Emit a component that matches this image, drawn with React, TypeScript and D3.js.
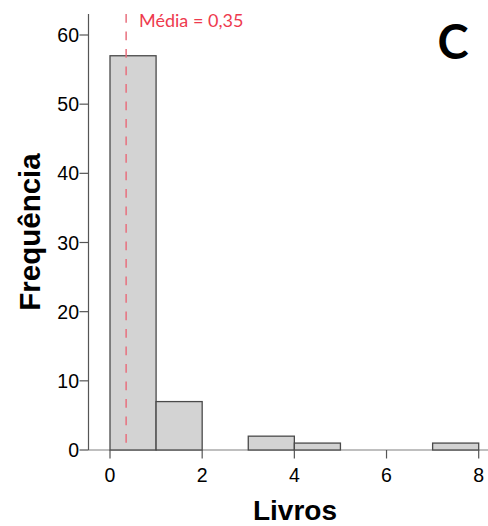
import React from "react";
import * as d3 from "d3";

const binStarts = [0, 1, 2, 3, 4, 5, 6, 7];
const counts = [57, 7, 0, 2, 1, 0, 0, 1];
const xTicks = [0, 2, 4, 6, 8];
const yTicks = [0, 10, 20, 30, 40, 50, 60];
const meanValue = 0.35;
const meanLabel = "Média = 0,35";
const xTitle = "Livros";
const yTitle = "Frequência";
const panelLabel = "C";

const W = 488;
const H = 526;

export default function App() {
  const x = d3.scaleLinear().domain([0, 8]).range([110, 478.7]);
  const y = d3.scaleLinear().domain([0, 60]).range([450, 35]);
  const axisColor = "#555";
  const font = "'Liberation Sans', Arial, sans-serif";
  return (
    <svg
      width={W}
      height={H}
      style={{ position: "absolute", left: 0, top: 0, background: "#fff" }}
    >
      {/* baseline */}
      <line x1={88.5} x2={488} y1={y(0)} y2={y(0)} stroke="#aaa" strokeWidth={1.5} />
      {/* bars */}
      {binStarts.map((b, i) =>
        counts[i] > 0 ? (
          <rect
            key={i}
            x={x(b)}
            y={y(counts[i])}
            width={x(b + 1) - x(b)}
            height={y(0) - y(counts[i])}
            fill="#d3d3d3"
            stroke="#4a4a4a"
            strokeWidth={1.3}
          />
        ) : null
      )}
      {/* y axis */}
      <line x1={88.5} x2={88.5} y1={14} y2={y(0)} stroke={axisColor} strokeWidth={1.2} />
      {yTicks.map((t) => (
        <g key={t}>
          <line x1={79.5} x2={88.5} y1={y(t)} y2={y(t)} stroke={axisColor} strokeWidth={1.2} />
          <text
            x={79}
            y={y(t)}
            dy="0.36em"
            textAnchor="end"
            fontFamily={font}
            fontSize={19.5}
            fill="#000"
          >
            {t}
          </text>
        </g>
      ))}
      {/* x axis ticks */}
      {xTicks.map((t) => (
        <g key={t}>
          <line x1={x(t)} x2={x(t)} y1={y(0)} y2={458.5} stroke={axisColor} strokeWidth={1.2} />
          <text
            x={x(t)}
            y={481.7}
            textAnchor="middle"
            fontFamily={font}
            fontSize={19.5}
            fill="#000"
          >
            {t}
          </text>
        </g>
      ))}
      {/* mean line */}
      <line
        x1={x(meanValue)}
        x2={x(meanValue)}
        y1={14}
        y2={y(0)}
        stroke="#e8707e"
        strokeWidth={1.5}
        strokeDasharray="8.7 8.8"
      />
      <text
        x={139}
        y={27}
        fontFamily="Lato, 'Open Sans', sans-serif"
        fontSize={18}
        fill="#ee3a4e"
      >
        {meanLabel}
      </text>
      {/* titles */}
      <text
        x={295}
        y={520}
        textAnchor="middle"
        fontFamily={font}
        fontWeight="bold"
        fontSize={28}
        fill="#000"
      >
        {xTitle}
      </text>
      <text
        transform={`translate(39.5,232) rotate(-90)`}
        textAnchor="middle"
        fontFamily={font}
        fontWeight="bold"
        fontSize={29.5}
        fill="#000"
      >
        {yTitle}
      </text>
      <text
        x={453}
        y={59}
        textAnchor="middle"
        fontFamily="Lato, 'Open Sans', sans-serif"
        fontWeight="bold"
        fontSize={47}
        fill="#000"
      >
        {panelLabel}
      </text>
    </svg>
  );
}
